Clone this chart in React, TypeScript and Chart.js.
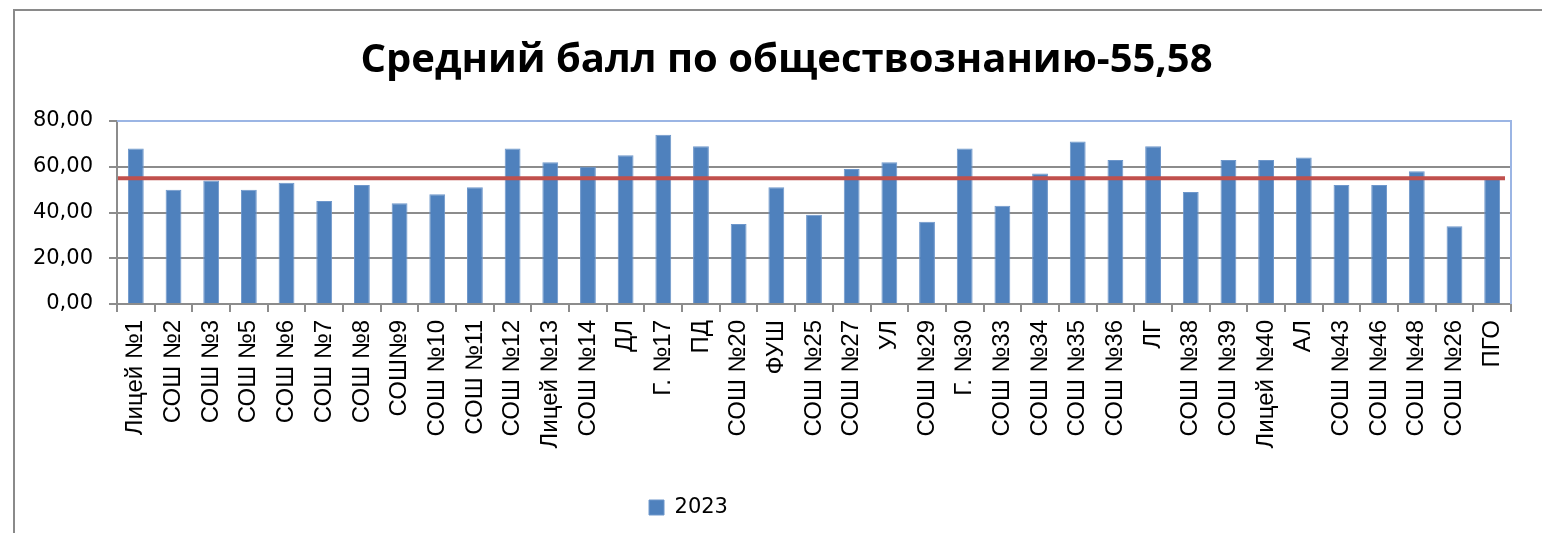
import React, { useEffect, useRef } from 'react';
import { Chart, registerables } from 'chart.js';

Chart.register(...registerables);

const TITLE = 'Средний балл по обществознанию-55,58';
const SERIES_LABEL = '2023';

const CATEGORIES = [
  'Лицей №1', 'СОШ №2', 'СОШ №3', 'СОШ №5', 'СОШ №6', 'СОШ №7', 'СОШ №8', 'СОШ№9',
  'СОШ №10', 'СОШ №11', 'СОШ №12', 'Лицей №13', 'СОШ №14', 'ДЛ', 'Г. №17', 'ПД',
  'СОШ №20', 'ФУШ', 'СОШ №25', 'СОШ №27', 'УЛ', 'СОШ №29', 'Г. №30', 'СОШ №33',
  'СОШ №34', 'СОШ №35', 'СОШ №36', 'ЛГ', 'СОШ №38', 'СОШ №39', 'Лицей №40', 'АЛ',
  'СОШ №43', 'СОШ №46', 'СОШ №48', 'СОШ №26', 'ПГО',
];

const VALUES_2023 = [
  68, 50, 54, 50, 53, 45, 52, 44,
  48, 51, 68, 62, 60, 65, 74, 69,
  35, 51, 39, 59, 62, 36, 68, 43,
  57, 71, 63, 69, 49, 63, 63, 64,
  52, 52, 58, 34, 55,
];

const AVERAGE_LINE = 55;

const Y_MIN = 0;
const Y_MAX = 80;
const Y_STEP = 20;

const averagePlugin = {
  id: 'averageLine',
  afterDatasetsDraw(chart: any) {
    const { ctx, chartArea, scales } = chart;
    const y = scales.y.getPixelForValue(AVERAGE_LINE);
    ctx.save();
    ctx.strokeStyle = '#C0504D';
    ctx.lineWidth = 4;
    ctx.beginPath();
    ctx.moveTo(chartArea.left + 1, y);
    ctx.lineTo(chartArea.right - 6, y);
    ctx.stroke();
    ctx.restore();
  },
  afterDraw(chart: any) {
    const { ctx, chartArea } = chart;
    ctx.save();
    ctx.strokeStyle = '#9BB5E4';
    ctx.lineWidth = 2;
    ctx.beginPath();
    ctx.moveTo(chartArea.left, chartArea.top);
    ctx.lineTo(chartArea.right, chartArea.top);
    ctx.lineTo(chartArea.right, chartArea.bottom);
    ctx.stroke();
    ctx.restore();
  },
};

const shiftPlugin = {
  id: 'shiftBoxes',
  afterLayout(chart: any) {
    const t = chart.titleBlock;
    if (t) { t.left += 31; t.right += 31; }
    const l = chart.legend;
    if (l) { l.left -= 67; l.right -= 67; }
  },
};

export default function App() {
  const ref = useRef<HTMLCanvasElement | null>(null);

  useEffect(() => {
    if (!ref.current) return;
    const chart = new Chart(ref.current, {
      type: 'bar',
      data: {
        labels: CATEGORIES,
        datasets: [
          {
            label: SERIES_LABEL,
            data: VALUES_2023,
            backgroundColor: '#4F81BD',
            borderColor: '#6E97CB',
            borderWidth: 1,
            barPercentage: 0.42,
            categoryPercentage: 1,
          },
        ],
      },
      options: {
        animation: false,
        responsive: false,
        devicePixelRatio: 1,
        layout: { padding: { left: 0, right: 31, top: 0, bottom: 5 } },
        plugins: {
          title: {
            display: true,
            text: TITLE,
            color: '#000',
            font: { family: 'Open Sans', size: 40, weight: 'bold' },
            padding: { top: 37, bottom: 36 },
          },
          legend: {
            position: 'bottom',
            labels: {
              boxWidth: 15,
              boxHeight: 15,
              color: '#000',
              font: { family: 'DejaVu Sans', size: 21 },
              padding: 10,
            },
          },
          tooltip: { enabled: false },
        },
        scales: {
          x: {
            ticks: {
              color: '#000',
              font: { family: 'Liberation Sans', size: 24 },
              maxRotation: 90,
              minRotation: 90,
              autoSkip: false,
              padding: 8,
            },
            grid: {
              display: true,
              drawOnChartArea: false,
              offset: true,
              tickLength: 8,
              color: '#8C8C8C',
              lineWidth: 2,
            },
            border: { color: '#8C8C8C', width: 2 },
            afterFit: (s: any) => { s.height = 183; },
          },
          y: {
            min: Y_MIN,
            max: Y_MAX,
            ticks: {
              stepSize: Y_STEP,
              color: '#000',
              font: { family: 'DejaVu Sans', size: 21 },
              padding: 16,
              callback: (v: any) => Number(v).toFixed(2).replace('.', ','),
            },
            grid: {
              color: '#8C8C8C',
              lineWidth: 2,
              tickLength: 8,
              tickColor: '#8C8C8C',
            },
            border: { color: '#8C8C8C', width: 2 },
            afterFit: (s: any) => { s.width = 117; },
          },
        },
      },
      plugins: [averagePlugin, shiftPlugin],
    });
    return () => chart.destroy();
  }, []);

  return (
    <div style={{ position: 'fixed', left: 0, top: 0, width: 1542, height: 533, overflow: 'hidden', background: '#fff' }}>
      <div
        style={{
          position: 'absolute',
          left: 13,
          top: 9,
          width: 2000,
          height: 1000,
          borderTop: '2px solid #8A8A8A',
          borderLeft: '2px solid #8A8A8A',
        }}
      />
      <canvas
        ref={ref}
        width={1542}
        height={533}
        style={{ position: 'absolute', left: 0, top: 0, width: 1542, height: 533, display: 'block' }}
      />
    </div>
  );
}
